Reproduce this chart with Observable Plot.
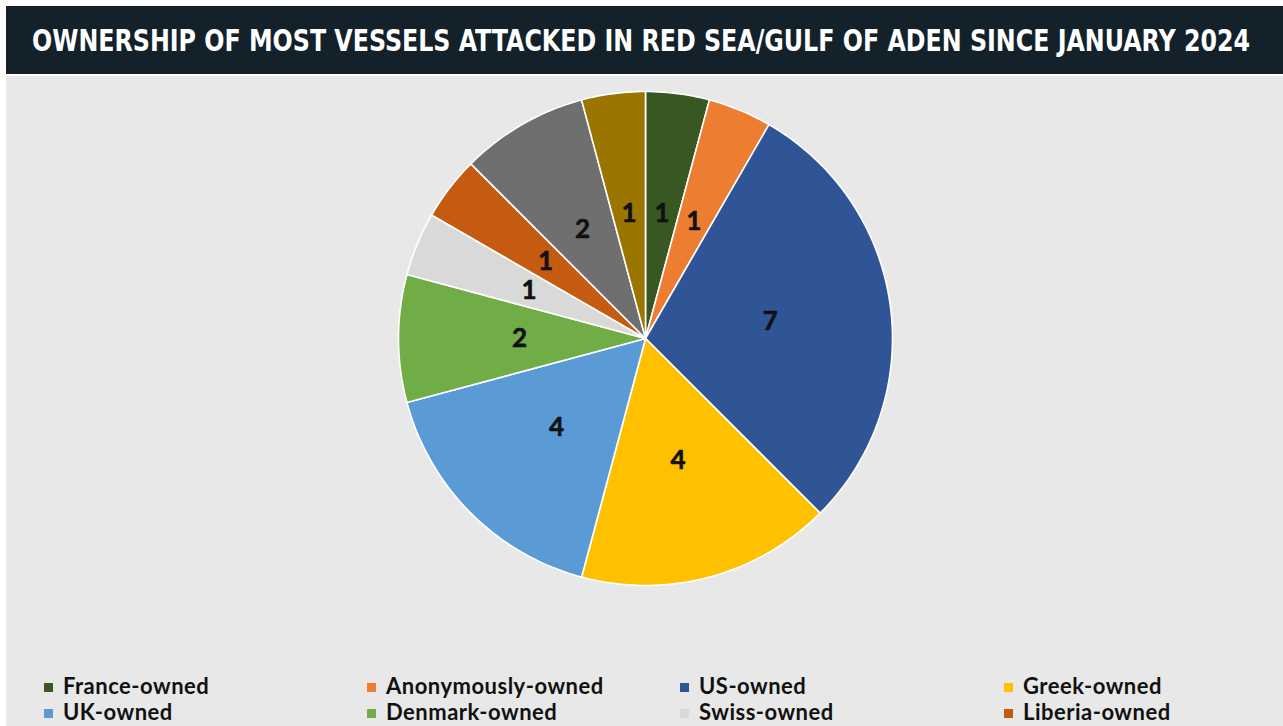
<!DOCTYPE html>
<html>
<head>
<meta charset="utf-8">
<script src="https://cdn.jsdelivr.net/npm/d3@7"></script>
<script src="https://cdn.jsdelivr.net/npm/@observablehq/plot@0.6"></script>
<style>
  html, body { margin: 0; padding: 0; background: #ffffff; }
  #wrap { position: relative; width: 1283px; height: 726px; overflow: hidden; background: #ffffff; }
  #titlebar { position: absolute; left: 6px; top: 6px; width: 1277px; height: 68px; background: #13222a; overflow: hidden; }
  #title { position: absolute; left: 26px; top: 14px; color: #ffffff; font-family: "DejaVu Sans Condensed", "DejaVu Sans", sans-serif; font-weight: 700; font-size: 31px; line-height: 40px; white-space: nowrap; transform-origin: 0 0; }
  #panel { position: absolute; left: 6px; top: 76px; width: 1277px; height: 650px; background: #e8e8e8; }
  #chart { position: absolute; left: 0; top: 0; }
  .leg { position: absolute; font-family: Lato, "Open Sans", sans-serif; font-weight: 700; font-size: 22px; letter-spacing: 0.5px; color: #111; white-space: nowrap; line-height: 24px; }
  .leg .sw { display: inline-block; width: 9px; height: 9px; margin-right: 10px; vertical-align: 2px; }
</style>
</head>
<body>
<div id="wrap">
  <div id="titlebar">
    <div id="title">OWNERSHIP OF MOST VESSELS ATTACKED IN RED SEA/GULF OF ADEN SINCE JANUARY 2024</div>
  </div>
  <div id="panel">
    <div id="chart"></div>
    <div id="legend"></div>
  </div>
</div>
<script>
// ---- Data ----
const owners = ["France-owned", "Anonymously-owned", "US-owned", "Greek-owned", "UK-owned", "Denmark-owned", "Swiss-owned", "Liberia-owned", "Other-owned", "Unidentified-owned"];
const vessels = [1, 1, 7, 4, 4, 2, 1, 1, 2, 1];
const sliceColors = ["#385723", "#ED7D31", "#2F5597", "#FFC000", "#5B9BD5", "#70AD47", "#D9D9D9", "#C55A11", "#6F6F6F", "#9A7500"];
const legendOwners = ["France-owned", "Anonymously-owned", "US-owned", "Greek-owned", "UK-owned", "Denmark-owned", "Swiss-owned", "Liberia-owned"];

// ---- Title fit ----
const titleEl = document.getElementById("title");
const tw = titleEl.getBoundingClientRect().width;
titleEl.style.transform = `scaleX(${1218 / tw})`;

// ---- Layout ----
const W = 1277, H = 570;
const cx = 639, cy = 262, R = 247;
const labelRatio = 0.51;

const table = owners.map((o, i) => ({owner: o, value: vessels[i]}));
const arcs = d3.pie().sort(null).value(d => d.value)(table);

// polygon outline of each wedge (unit-radius space), derived from pie angles
const outline = [];
arcs.forEach(a => {
  const owner = a.data.owner;
  outline.push({owner, u: 0, v: 0});
  const n = Math.max(2, Math.ceil((a.endAngle - a.startAngle) / (Math.PI / 180)));
  for (let k = 0; k <= n; k++) {
    const t = a.startAngle + (a.endAngle - a.startAngle) * k / n;
    outline.push({owner, u: Math.sin(t), v: Math.cos(t)});
  }
});
const labels = arcs.map(a => {
  const m = (a.startAngle + a.endAngle) / 2;
  return {owner: a.data.owner, value: a.data.value, u: labelRatio * Math.sin(m), v: labelRatio * Math.cos(m)};
});

const chart = Plot.plot({
  width: W,
  height: H,
  margin: 0,
  style: {background: "transparent", overflow: "visible"},
  x: {domain: [-1, 1], range: [cx - R, cx + R], axis: null},
  y: {domain: [-1, 1], range: [cy + R, cy - R], axis: null},
  color: {domain: owners, range: sliceColors},
  marks: [
    Plot.line(outline, {x: "u", y: "v", z: "owner", fill: "owner", stroke: "#ffffff", strokeWidth: 1.6, strokeLinejoin: "round", curve: "linear-closed"}),
    Plot.text(labels, {x: "u", y: "v", text: "value", fill: "#111111", stroke: "#111111", strokeWidth: 0.6, fontSize: 26, fontWeight: 700, fontFamily: "Lato, 'Open Sans', sans-serif"})
  ]
});
document.getElementById("chart").appendChild(chart);

// ---- Legend ----
const legendCols = [38, 361, 674, 998];
const legendRows = [598, 624];
const legend = document.getElementById("legend");
legendOwners.forEach((o, i) => {
  const el = document.createElement("div");
  el.className = "leg";
  el.style.left = legendCols[i % 4] + "px";
  el.style.top = legendRows[Math.floor(i / 4)] + "px";
  const sw = document.createElement("span");
  sw.className = "sw";
  sw.style.background = sliceColors[owners.indexOf(o)];
  el.appendChild(sw);
  el.appendChild(document.createTextNode(o));
  legend.appendChild(el);
});
</script>
</body>
</html>
